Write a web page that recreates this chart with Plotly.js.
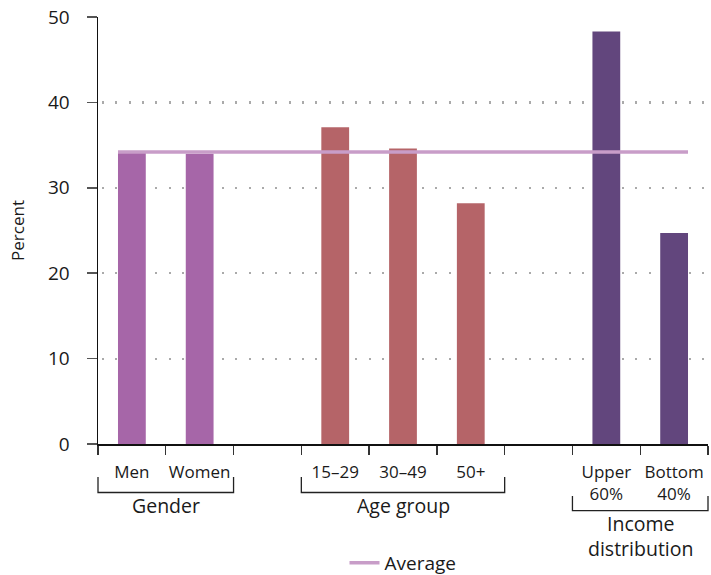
<!DOCTYPE html>
<html>
<head>
<meta charset="utf-8">
<script src="https://cdn.plot.ly/plotly-3.0.1.min.js"></script>
<style>
  html, body { margin: 0; padding: 0; background: #fff; }
  #chart { width: 711px; height: 575px; }
</style>
</head>
<body>
<div id="chart"></div>
<script>
// ---- data ----
const categories = ["Men", "Women", " ", "15\u201329", "30\u201349", "50+", "  ", "Upper<br>60%", "Bottom<br>40%"];
const genderCats = ["Men", "Women"];
const genderVals = [34.1, 34.0];
const ageCats = ["15\u201329", "30\u201349", "50+"];
const ageVals = [37.1, 34.6, 28.2];
const incomeCats = ["Upper<br>60%", "Bottom<br>40%"];
const incomeVals = [48.3, 24.7];
const averageValue = 34.2;
const groupLabels = ["Gender", "Age group", "Income<br>distribution"];
const yTickVals = [0, 10, 20, 30, 40, 50];

// ---- styles ----
const FONT = "Open Sans, DejaVu Sans, sans-serif";
const bargap = 0.59;
const barW = 1 - bargap;
const n = categories.length;

const traces = [
  { type: "bar", x: genderCats, y: genderVals, marker: { color: "#A666A8" }, showlegend: false, hoverinfo: "skip" },
  { type: "bar", x: ageCats, y: ageVals, marker: { color: "#B56468" }, showlegend: false, hoverinfo: "skip" },
  { type: "bar", x: incomeCats, y: incomeVals, marker: { color: "#62467D" }, showlegend: false, hoverinfo: "skip" },
  {
    type: "scatter", mode: "lines", name: "Average",
    x: [0 - barW / 2, (n - 1) + barW / 2],
    y: [averageValue, averageValue],
    xaxis: "x2",
    line: { color: "#C89DC8", width: 3.5 },
    hoverinfo: "skip"
  }
];

// group brackets spanning category index ranges (boundaries in paper units)
const groups = [
  { from: 0, to: 1, label: groupLabels[0], yTop: -0.0773, yBot: -0.1136, ly: -0.145 },
  { from: 3, to: 5, label: groupLabels[1], yTop: -0.0773, yBot: -0.1136, ly: -0.145 },
  { from: 7, to: 8, label: groupLabels[2], yTop: -0.1218, yBot: -0.1562, ly: -0.2155 }
];
const shapes = [];
const annotations = [];
groups.forEach(g => {
  const x0 = g.from / n, x1 = (g.to + 1) / n;
  shapes.push({
    type: "path", xref: "paper", yref: "paper",
    path: `M${x0},${g.yTop} L${x0},${g.yBot} L${x1},${g.yBot} L${x1},${g.yTop}`,
    line: { color: "#222", width: 1.3 }
  });
  annotations.push({
    xref: "paper", yref: "paper", x: (x0 + x1) / 2, y: g.ly,
    text: g.label, showarrow: false, xanchor: "center", yanchor: "middle",
    font: { family: FONT, size: 19.5, color: "#1a1a1a" }
  });
});

const layout = {
  width: 711, height: 575,
  margin: { l: 98, r: 3, t: 17, b: 131, autoexpand: false },
  paper_bgcolor: "#fff", plot_bgcolor: "#fff",
  font: { family: FONT, size: 16, color: "#1a1a1a" },
  barmode: "overlay",
  bargap: bargap,
  showlegend: true,
  legend: {
    orientation: "h", xref: "paper", x: 0.5, xanchor: "center",
    yref: "container", y: 0.021, yanchor: "middle",
    font: { family: FONT, size: 19, color: "#1a1a1a" }
  },
  xaxis: {
    type: "category", categoryorder: "array", categoryarray: categories,
    range: [-0.5, n - 0.5],
    tickson: "boundaries", ticks: "outside", ticklen: 9, tickcolor: "#333", tickwidth: 1.3,
    showline: true, linecolor: "#111", linewidth: 1.5,
    showgrid: false, zeroline: false,
    tickangle: 0,
    ticklabelstandoff: 12,
    tickfont: { family: FONT, size: 17, color: "#1a1a1a" },
    fixedrange: true
  },
  xaxis2: {
    overlaying: "x", range: [-0.5, n - 0.5], visible: false, fixedrange: true
  },
  yaxis: {
    range: [0, 50], tickvals: yTickVals,
    ticks: "outside", ticklen: 10, tickcolor: "#555", tickwidth: 1.5,
    showline: true, linecolor: "#111", linewidth: 1.5,
    showgrid: true, gridcolor: "#aaaaaa", gridwidth: 2.2, griddash: "0px,4px,2px,7.33px",
    zeroline: false,
    ticklabelstandoff: 13,
    tickfont: { family: FONT, size: 19, color: "#1a1a1a" },
    title: { text: "Percent", font: { family: FONT, size: 17, color: "#1a1a1a" }, standoff: 19 },
    fixedrange: true
  },
  shapes: shapes,
  annotations: annotations
};

Plotly.newPlot("chart", traces, layout, { displayModeBar: false, staticPlot: true });
</script>
</body>
</html>
